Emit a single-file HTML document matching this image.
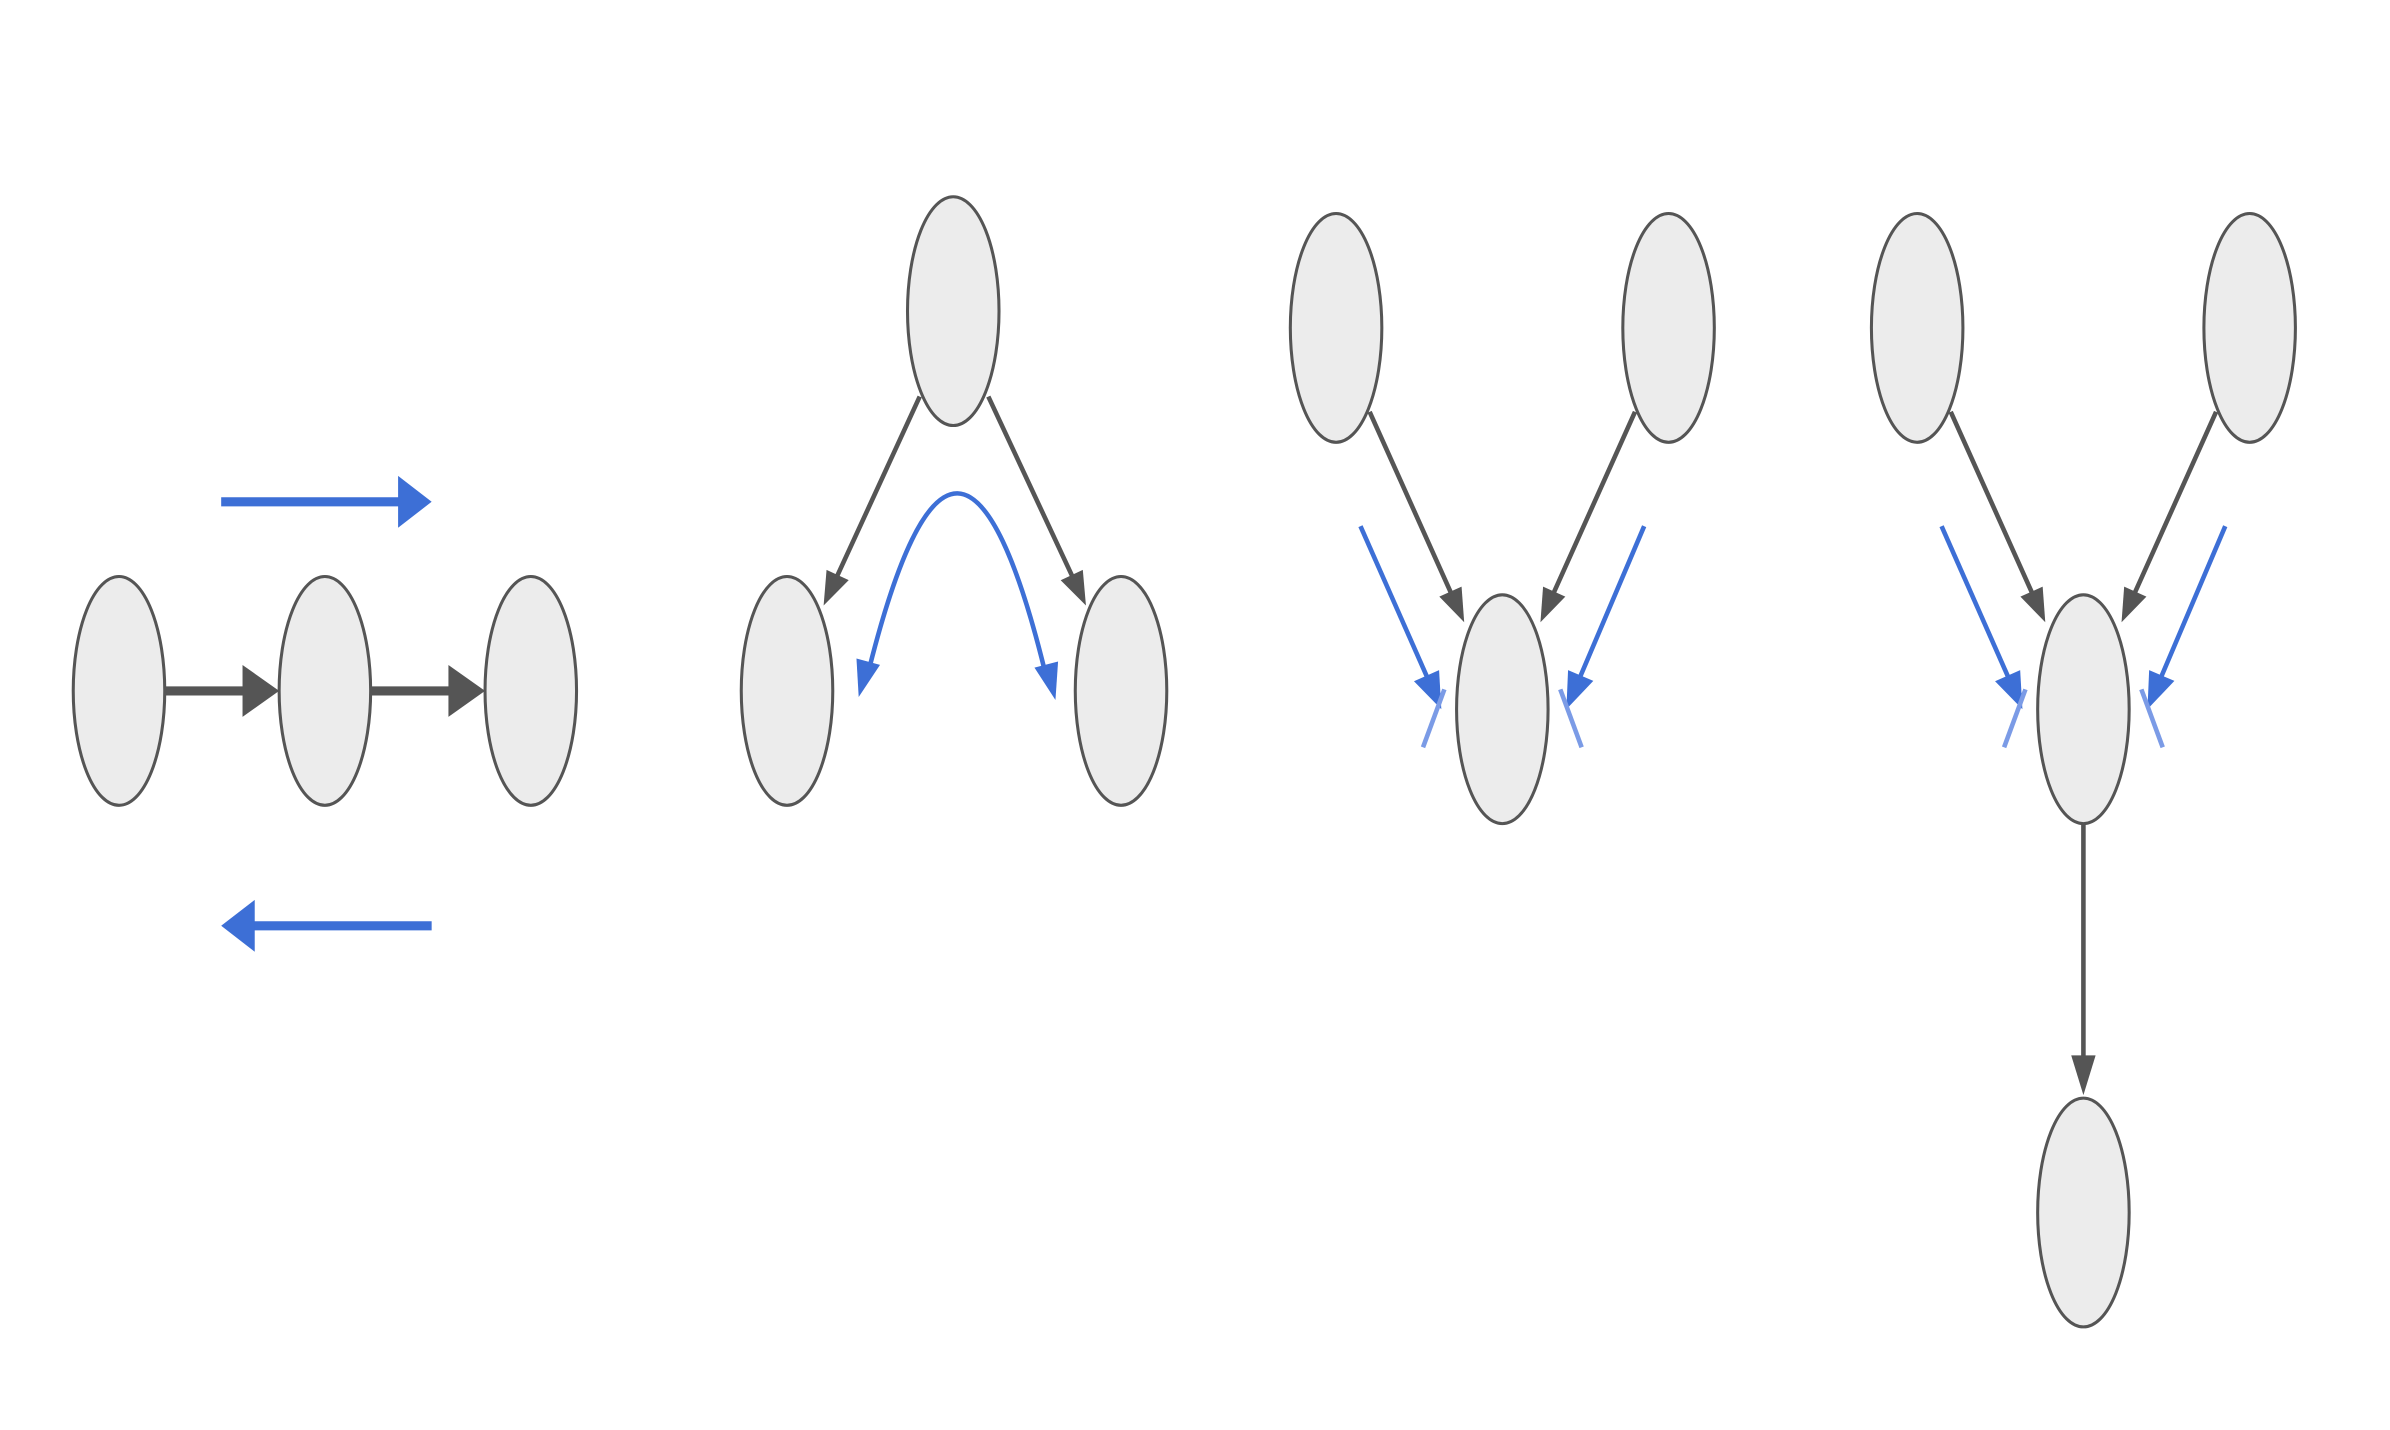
<!DOCTYPE html>
<html><head><meta charset="utf-8"><style>
html,body{margin:0;padding:0;background:#fff;}
svg{display:block;}
</style></head><body>
<svg id="d" width="2390" height="1430" viewBox="0 0 1567 937.6" xmlns="http://www.w3.org/2000/svg">
<g id="edges"></g><g id="nodes"></g><g id="blue"></g>
</svg>
<script>
const nodes=[[78,453],[213,453],[348,453],[625,204],[516,453],[735,453],[876,215],[1094,215],[985,465],[1257,215],[1475,215],[1366,465],[1366,795]];
const darkEdges=[[108,453,183,453,6,24,17],[243,453,318,453,6,24,17],[603,260,540,397,3,22,8],[648,260,712,397,3,22,8],[898,270,960,408,3,22,8],[1072,270,1010,408,3,22,8],[1279,270,1341,408,3,22,8],[1453,270,1391,408,3,22,8],[1366,540,1366,718,3,26,8]];
const blueStraight=[[145,329,283,329,6,22,17],[283,607,145,607,6,22,17],[892,345,945,465,3,24,9],[1078,345,1027,465,3,24,9],[1273,345,1326,465,3,24,9],[1459,345,1408,465,3,24,9]];
const bars=[[933,490,947,452],[1037,490,1023,452],[1314,490,1328,452],[1418,490,1404,452]];
const NS='http://www.w3.org/2000/svg';
function mk(t,a,p){const e=document.createElementNS(NS,t);for(const k in a)e.setAttribute(k,a[k]);p.appendChild(e);return e;}
const gn=document.getElementById('nodes'),ge=document.getElementById('edges'),gb=document.getElementById('blue');
function head(x,y,ux,uy,L,W,col,p){const bx=x-ux*L,by=y-uy*L,px=-uy,py=ux;
return mk('polygon',{points:`${x},${y} ${bx+px*W},${by+py*W} ${bx-px*W},${by-py*W}`,fill:col},p);}
function arrow(d,col,p){const [x1,y1,x2,y2,w,L,W]=d;const dx=x2-x1,dy=y2-y1,len=Math.hypot(dx,dy),ux=dx/len,uy=dy/len;
const l=mk('line',{x1:x1,y1:y1,x2:x2-ux*L*0.8,y2:y2-uy*L*0.8,stroke:col,'stroke-width':w},p);


const h=head(x2,y2,ux,uy,L,W,col,p);

}
nodes.forEach(n=>{const e=mk('ellipse',{cx:n[0],cy:n[1],rx:30,ry:75,fill:'#ececec',stroke:'#555','stroke-width':2},gn);

});
darkEdges.forEach(d=>arrow(d,'#555',ge));
blueStraight.forEach(d=>arrow(d,'#3d6fd6',gb));
bars.forEach(d=>{const e=mk('line',{x1:d[0],y1:d[1],x2:d[2],y2:d[3],stroke:'#7b9be6','stroke-width':3},gb);

});
const c=mk('path',{d:'M568,446 Q628,200 687,448',fill:'none',stroke:'#3d6fd6','stroke-width':3},gb);


function tanHead(x,y,cx,cy){const dx=x-cx,dy=y-cy,l=Math.hypot(dx,dy);const h=head(x,y,dx/l,dy/l,24,8,'#3d6fd6',gb);

}
tanHead(563,457,600,320);
tanHead(692,459,656,320);
</script>
</body></html>
